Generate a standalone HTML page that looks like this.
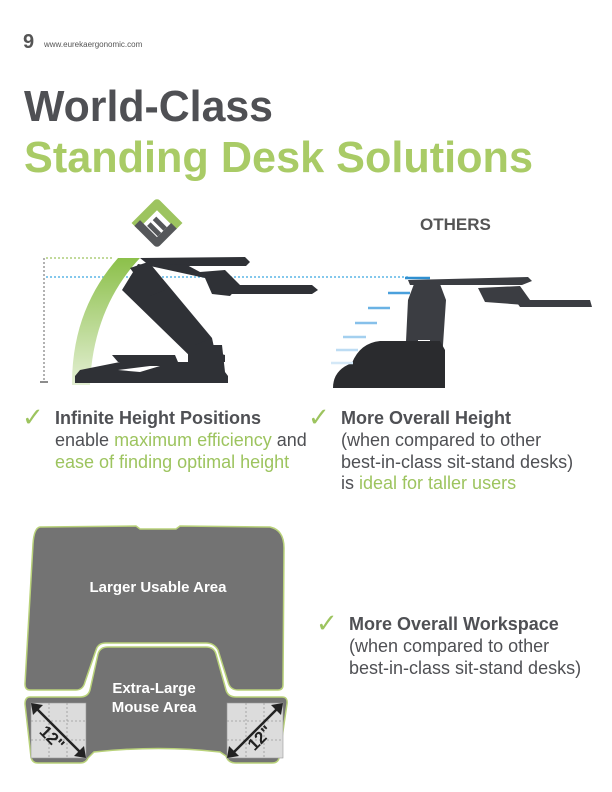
<!DOCTYPE html>
<html><head><meta charset="utf-8"><style>
html,body{margin:0;padding:0;background:#fff;}
svg{display:block;}
text{font-family:"Liberation Sans",sans-serif;}
</style></head><body>
<svg width="612" height="792" viewBox="0 0 612 792" xmlns="http://www.w3.org/2000/svg">
<!-- header -->
<text x="23" y="48" font-size="20" font-weight="bold" fill="#555">9</text>
<text x="44" y="47" font-size="8" fill="#555">www.eurekaergonomic.com</text>
<text x="24" y="121" font-size="44" font-weight="bold" fill="#4f5054" textLength="249" lengthAdjust="spacingAndGlyphs">World-Class</text>
<text x="24" y="172" font-size="44" font-weight="bold" fill="#a9cb66" textLength="509" lengthAdjust="spacingAndGlyphs">Standing Desk Solutions</text>

<!-- logo -->
<g transform="translate(157,223) rotate(45)">
  <path d="M-18,-14 a4,4 0 0 1 4,-4 h32 v9 h-27 v27 h-9 z" fill="#9dc45f"/>
  <path d="M-14,18 h28 a4,4 0 0 0 4,-4 v-24 h-8 v20 h-24 z" fill="#55575a"/>
  <rect x="-5" y="-4" width="15" height="5" fill="#55575a"/>
  <rect x="-5" y="4" width="15" height="5" fill="#55575a"/>
</g>
<text x="420" y="230" font-size="17" font-weight="bold" fill="#555">OTHERS</text>

<!-- left desk guides -->
<line x1="44" y1="258" x2="44" y2="382" stroke="#666" stroke-width="1" stroke-dasharray="2,2"/>
<line x1="40" y1="382" x2="48" y2="382" stroke="#666" stroke-width="1.5"/>
<line x1="46" y1="258" x2="112" y2="258" stroke="#9dc45f" stroke-width="1.2" stroke-dasharray="2,2"/>
<line x1="46" y1="277" x2="410" y2="277" stroke="#3aa8e0" stroke-width="1.2" stroke-dasharray="2,2"/>
<defs><linearGradient id="g" x1="0" y1="0" x2="0" y2="1"><stop offset="0" stop-color="#8cc04a"/><stop offset="1" stop-color="#e3efd3"/></linearGradient></defs>
<path d="M72,385 C72,330 90,290 118,258 L140,258 C108,292 92,335 90,385 Z" fill="url(#g)"/>
<!-- left desk -->
<g fill="#2f3136">
<polygon points="140,258 245,257 250,262 246,266 150,266"/>
<polygon points="150,266 185,264 200,272 225,270 240,285 230,296 212,294 205,278"/>
<polygon points="210,285 312,285 318,290 312,294 215,294"/>
<polygon points="122,290 138,264 152,266 212,338 212,360 196,362"/>
<polygon points="130,268 148,262 165,290 150,296"/>
<polygon points="195,345 212,338 215,352 225,355 225,362 195,362"/>
<polygon points="112,355 175,355 178,362 118,362"/>
<polygon points="80,370 120,362 188,362 188,345 222,345 225,372 228,376 228,383 75,383 75,376"/>
</g>
<polygon points="118,370 150,366 160,366 140,372" fill="#fff"/>
<!-- right desk -->
<g fill="#3b3d42">
<polygon points="408,280 528,277 532,281 522,285 410,285"/>
<polygon points="478,288 520,286 530,300 525,305 485,302"/>
<polygon points="515,300 590,300 592,307 520,307"/>
<polygon points="414,284 440,284 446,300 442,360 430,362 430,340 418,340 418,362 405,362 408,300"/>
<path d="M352,363 Q360,343 380,341 L440,341 L445,350 L445,388 L333,388 Q333,370 352,363 Z" fill="#2a2b2e"/>
</g>
<g stroke-width="2.5">
<line x1="405" y1="278" x2="430" y2="278" stroke="#2f8fd0"/>
<line x1="388" y1="293" x2="410" y2="293" stroke="#4aa0dc"/>
<line x1="368" y1="308" x2="390" y2="308" stroke="#6ab2e4"/>
<line x1="355" y1="323" x2="377" y2="323" stroke="#86c0ea"/>
<line x1="343" y1="337" x2="366" y2="337" stroke="#a4d0ef"/>
<line x1="336" y1="350" x2="358" y2="350" stroke="#bddcf3"/>
<line x1="331" y1="363" x2="353" y2="363" stroke="#d4e8f7"/>
</g>

<!-- checks & text -->
<g font-size="18" fill="#4f5054">
<text x="22" y="426" font-size="26" fill="#9dc45f">✓</text>
<text x="55" y="424" font-weight="bold">Infinite Height Positions</text>
<text x="55" y="446">enable <tspan fill="#9dc45f">maximum efficiency</tspan> and</text>
<text x="55" y="468" fill="#9dc45f">ease of finding optimal height</text>
<text x="308" y="426" font-size="26" fill="#9dc45f">✓</text>
<text x="341" y="424" font-weight="bold">More Overall Height</text>
<text x="341" y="446">(when compared to other</text>
<text x="341" y="468">best-in-class sit-stand desks)</text>
<text x="341" y="489">is <tspan fill="#9dc45f">ideal for taller users</tspan></text>
<text x="316" y="632" font-size="26" fill="#9dc45f">✓</text>
<text x="349" y="630" font-weight="bold">More Overall Workspace</text>
<text x="349" y="652">(when compared to other</text>
<text x="349" y="674">best-in-class sit-stand desks)</text>
</g>

<!-- workspace tray -->
<g stroke="#b9d27a" stroke-width="1.5" fill="#737373">
<path d="M40,527 L136,526 L140,529 L176,529 L180,526 L270,527 Q284,530 284,548 L283,685 Q283,690 278,690 L238,690 Q230,690 228,682 L218,650 Q214,643 206,643 L106,643 Q98,643 96,650 L85,682 Q83,690 76,690 L30,690 Q25,690 25,684 L33,544 Q34,528 40,527 Z"/>
<path d="M30,697 L80,697 Q88,697 90,690 L98,654 Q100,647 108,647 L206,647 Q214,647 216,654 L226,690 Q228,697 236,697 L282,697 Q288,697 287,704 L279,758 Q278,763 272,763 L236,763 Q228,763 226,756 L220,752 Q160,745 94,752 L88,758 Q86,763 80,763 L38,763 Q32,763 31,757 L25,704 Q25,697 30,697 Z"/>
</g>
<g fill="#dcdcdc" stroke="#999" stroke-width="0.6">
<rect x="31" y="703" width="55" height="55"/>
<rect x="227" y="703" width="56" height="55"/>
</g>
<g stroke="#999" stroke-width="0.8" stroke-dasharray="2,2">
<line x1="49" y1="703" x2="49" y2="758"/><line x1="67" y1="703" x2="67" y2="758"/>
<line x1="31" y1="721" x2="86" y2="721"/><line x1="31" y1="740" x2="86" y2="740"/>
<line x1="246" y1="703" x2="246" y2="758"/><line x1="264" y1="703" x2="264" y2="758"/>
<line x1="227" y1="721" x2="283" y2="721"/><line x1="227" y1="740" x2="283" y2="740"/>
</g>
<g stroke="#222" stroke-width="2.5">
<line x1="36" y1="708" x2="81" y2="753"/>
<line x1="278" y1="708" x2="233" y2="753"/>
</g>
<g fill="#222">
<polygon points="31,703 43,705 33,715"/><polygon points="86,758 74,756 84,746"/>
<polygon points="283,703 271,705 281,715"/><polygon points="227,758 239,756 229,746"/>
</g>
<text transform="translate(48,742) rotate(45)" font-size="17" font-weight="bold" fill="#222" text-anchor="middle">12"</text>
<text transform="translate(264,742) rotate(-45)" font-size="17" font-weight="bold" fill="#222" text-anchor="middle">12"</text>
<g font-size="15" font-weight="bold" fill="#fff" text-anchor="middle">
<text x="158" y="592">Larger Usable Area</text>
<text x="154" y="693">Extra-Large</text>
<text x="154" y="712">Mouse Area</text>
</g>
</svg>
</body></html>
